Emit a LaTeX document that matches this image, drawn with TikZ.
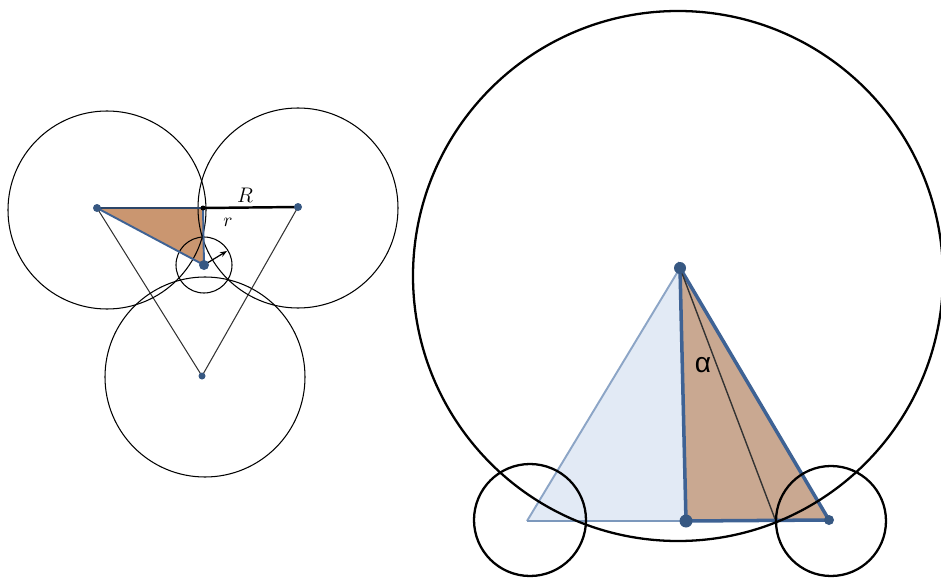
\documentclass[tikz,border=0pt]{standalone}
\usepackage{fontspec}
\usepackage{tikz}
\usetikzlibrary{arrows.meta}
\usepackage{xcolor}
\newfontfamily\greekfont{Liberation Sans}
\definecolor{edgeblue}{RGB}{62,98,148}
\definecolor{dotblue}{RGB}{55,88,130}
\definecolor{paleblue}{RGB}{226,234,245}
\definecolor{paleedge}{RGB}{140,165,198}
\definecolor{tanfill}{RGB}{202,150,112}
\definecolor{tanright}{RGB}{201,168,145}

\begin{document}
\begin{tikzpicture}[x=0.02cm, y=-0.02cm,
  ring/.style={draw=black, line width=0.6pt},
  bigring/.style={draw=black, line width=1.3pt},
  thinln/.style={draw=black!80, line width=0.6pt},
  bluln/.style={draw=edgeblue, line width=1.5pt},
  pt/.style={fill=dotblue},
  lbl/.style={font=\fontsize{13}{15}\selectfont, inner sep=0pt},
]
  \useasboundingbox (0,0) rectangle (941,578);

  % left picture: three touching circles and the small one
  \coordinate (A) at (97,208);
  \coordinate (B) at (298,207);
  \coordinate (C) at (202,376);
  \coordinate (O) at (204,265);
  \coordinate (M) at (203,208);
  \coordinate (T) at (227,251);

  \fill[tanfill] (A) -- (M) -- (O) -- cycle;
  \draw[thinln] (A) -- (C) -- (B);
  \foreach \cx/\cy/\rr in {107/210/99, 298/208/100, 205/377/100, 204/265/28}{
    \draw[ring] (\cx,\cy) circle[radius=\rr];
  }
  \draw[bluln, line width=1.1pt] (A) -- (O) -- (M);
  \draw[draw=edgeblue!70!black, line width=1.6pt] (A) -- (M);
  \draw[black, line width=1.4pt] (M) -- (B);
  \node[lbl] (Rlab) at (245,195) {$R$};
  \draw[-{Stealth[length=4pt]}, line width=0.7pt] (O) -- (T);
  \node[lbl, font=\fontsize{11}{13}\selectfont] (rlab) at (228,222) {$r$};
  \foreach \p/\s in {A/4, B/4, C/3.5, O/5}{
    \fill[pt] (\p) circle[radius=\s];
  }
  \fill[black] (M) circle[radius=2.5];

  % right picture: big circle with two small ones
  \coordinate (P) at (680,268);
  \coordinate (L) at (527,521);
  \coordinate (F) at (686,521);
  \coordinate (Q) at (829,520);
  \coordinate (K) at (775,519);

  \fill[paleblue] (P) -- (L) -- (F) -- cycle;
  \fill[tanright] (P) -- (F) -- (Q) -- cycle;
  \draw[draw=paleedge, line width=1.1pt] (F) -- (P) -- (L);
  \draw[draw=paleedge!80!edgeblue, line width=1.4pt] (L) -- (F);
  \draw[bluln, line width=2pt] (P) -- (F) -- (Q) -- cycle;
  \draw[thinln, line width=0.8pt] (P) -- (K);
  \foreach \cx/\cy/\rr in {678/276/265, 530/520/56, 831/521/55}{
    \draw[bigring] (\cx,\cy) circle[radius=\rr];
  }
  \foreach \p/\s in {P/6, F/6.5, Q/5}{
    \fill[pt] (\p) circle[radius=\s];
  }
  \node[font=\greekfont\fontsize{16}{18}\selectfont, inner sep=0pt]
    (alab) at (703,365) {α};
\end{tikzpicture}
\end{document}
